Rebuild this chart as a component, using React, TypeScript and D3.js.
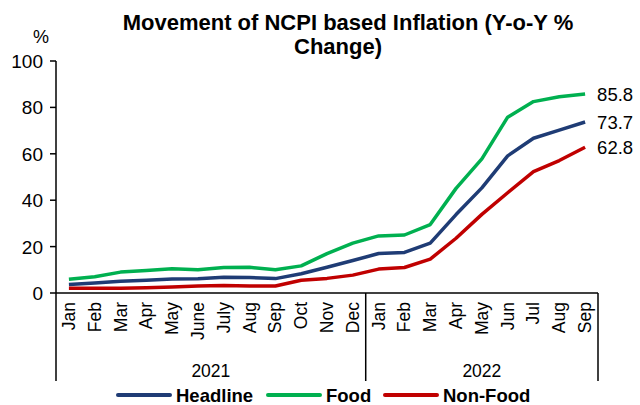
import React from 'react';
import * as d3 from 'd3';

const months = ['Jan', 'Feb', 'Mar', 'Apr', 'May', 'June', 'July', 'Aug', 'Sep', 'Oct', 'Nov', 'Dec',
  'Jan', 'Feb', 'Mar', 'Apr', 'May', 'Jun', 'Jul', 'Aug', 'Sep'];
const years = [{ label: '2021', from: 0, to: 12 }, { label: '2022', from: 12, to: 21 }];

const headline = [3.7, 4.3, 5.1, 5.5, 6.0, 6.1, 6.8, 6.7, 6.2, 8.3, 11.1, 14.0,
  17.0, 17.5, 21.5, 33.8, 45.3, 59.1, 66.7, 70.2, 73.7];
const food = [5.9, 7.0, 9.0, 9.7, 10.5, 10.0, 11.0, 11.1, 10.0, 11.7, 17.0, 21.5,
  24.6, 25.0, 29.5, 45.1, 57.8, 75.8, 82.5, 84.6, 85.8];
const nonFood = [2.0, 2.0, 2.1, 2.3, 2.6, 3.0, 3.2, 3.0, 3.0, 5.5, 6.3, 7.7,
  10.3, 11.0, 14.6, 23.6, 33.9, 43.2, 52.3, 57.1, 62.8];
const yTicks = [0, 20, 40, 60, 80, 100];

const seriesList = [
  { name: 'Headline', values: headline, color: '#1F3C75' },
  { name: 'Food', values: food, color: '#00B050' },
  { name: 'Non-Food', values: nonFood, color: '#C00000' },
];

const font = '"Liberation Sans", Arial, sans-serif';

export default function App() {
  const width = 640;
  const height = 405;
  const left = 56, right = 598, top = 61, bottom = 293;

  const x = d3.scaleBand<number>().domain(d3.range(months.length)).range([left, right]);
  const y = d3.scaleLinear().domain([0, 100]).range([bottom, top]);
  const cx = (i: number) => (x(i) as number) + x.bandwidth() / 2;

  const line = d3.line<number>().x((_, i) => cx(i)).y(d => y(d));

  const legendX = [118, 268, 385];

  return (
    <svg width={width} height={height} style={{ position: 'absolute', left: 0, top: 0, fontFamily: font }}>
      <rect width={width} height={height} fill="#fff" />
      <text x={348} y={30} textAnchor="middle" fontSize={22} fontWeight="bold">Movement of NCPI based Inflation (Y-o-Y %</text>
      <text x={338} y={54} textAnchor="middle" fontSize={22} fontWeight="bold">Change)</text>
      <text x={41} y={43} textAnchor="middle" fontSize={18}>%</text>

      {/* y axis */}
      <line x1={left} x2={left} y1={top} y2={bottom} stroke="#000" strokeWidth={1.5} />
      {yTicks.map(t => (
        <g key={t}>
          <line x1={left - 6} x2={left} y1={y(t)} y2={y(t)} stroke="#000" strokeWidth={1.5} />
          <text x={left - 13} y={y(t) + 7} textAnchor="end" fontSize={19}>{t}</text>
        </g>
      ))}

      {/* x axis */}
      <line x1={left} x2={right} y1={bottom} y2={bottom} stroke="#000" strokeWidth={1.5} />
      {[0, 12, 21].map(i => {
        const xx = i === 21 ? right : (x(i) as number);
        return <line key={i} x1={xx} x2={xx} y1={bottom} y2={381} stroke="#000" strokeWidth={1.5} />;
      })}
      {months.map((m, i) => (
        <text key={i} transform={`translate(${cx(i) + 6},${bottom + 9}) rotate(-90)`} textAnchor="end" fontSize={17.5}>{m}</text>
      ))}
      {years.map(g => {
        const a = x(g.from) as number;
        const b = g.to === months.length ? right : (x(g.to) as number);
        return <text key={g.label} x={(a + b) / 2} y={377} textAnchor="middle" fontSize={17.5}>{g.label}</text>;
      })}

      {seriesList.map(s => (
        <path key={s.name} d={line(s.values) || ''} fill="none" stroke={s.color} strokeWidth={3.5} strokeLinejoin="round" />
      ))}
      {seriesList.map(s => {
        const v = s.values[s.values.length - 1];
        return <text key={s.name} x={cx(s.values.length - 1) + 12} y={y(v) + 7} fontSize={18.5}>{v.toFixed(1)}</text>;
      })}

      {/* legend */}
      {seriesList.map((s, i) => (
        <g key={s.name}>
          <line x1={legendX[i]} x2={legendX[i] + 52} y1={395} y2={395} stroke={s.color} strokeWidth={4} strokeLinecap="round" />
          <text x={legendX[i] + 58} y={402} fontSize={18.5} fontWeight="bold">{s.name}</text>
        </g>
      ))}
    </svg>
  );
}
